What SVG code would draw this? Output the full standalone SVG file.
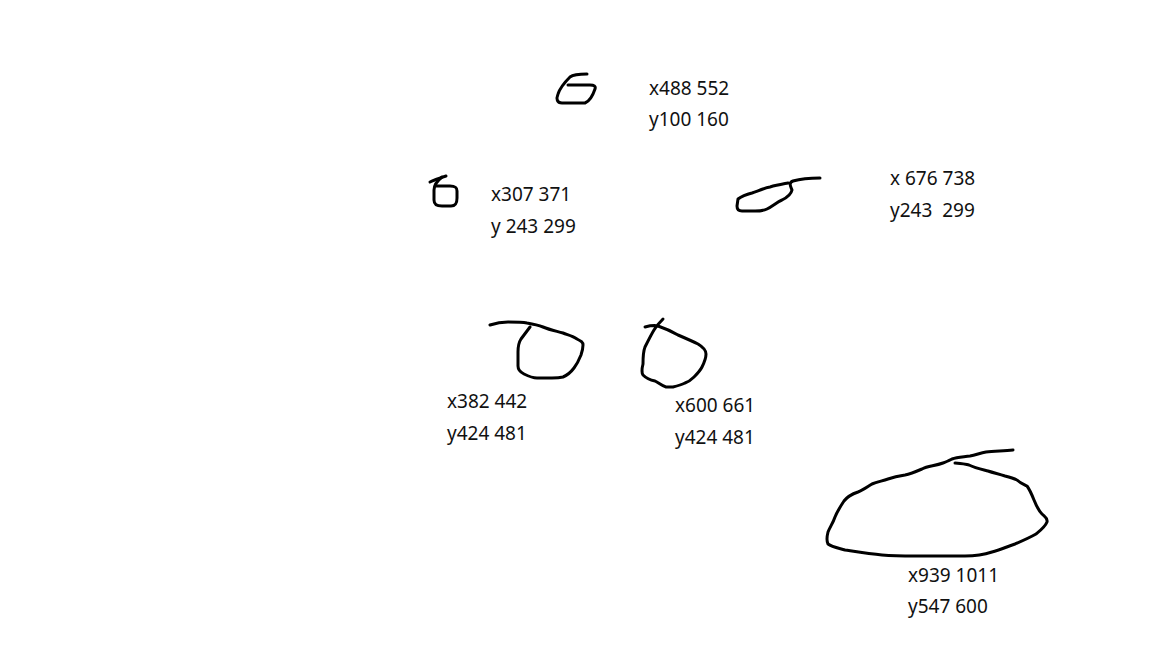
<svg xmlns="http://www.w3.org/2000/svg" width="1152" height="648" viewBox="0 0 1152 648">
<style>
.s{fill:none;stroke:#000;stroke-width:3;stroke-linecap:round;stroke-linejoin:round}
.t{font-family:"Noto Sans","Open Sans",sans-serif;font-size:19px;fill:#111;white-space:pre}
</style>
<rect width="1152" height="648" fill="#fff"/>
<g id="shape1">
<path class="s" d="M587,74 C580,74 574,74 570,77 C565,82 560,88 558,94 C556,99 557,103 562,103 L585,103 C590,101 593,95 595,89 C596,86 594,85 590,85 L568,85"/>
<text class="t" x="649" y="95">x488 552</text>
<text class="t" x="649" y="126">y100 160</text>
</g>
<g id="shape2">
<path class="s" d="M430,182 C434,180 440,178 446,176"/>
<path class="s" d="M442,177 C437,181 434,185 434,190 L434,200 C434,205 437,206 442,206 L451,206 C456,206 457,203 457,198 L457,191 C457,187 455,186 450,186 L436,186"/>
<text class="t" x="491" y="201">x307 371</text>
<text class="t" x="491" y="233">y 243 299</text>
</g>
<g id="shape3">
<path class="s" d="M820,178 C810,178 800,179 793,181 C788,183 791,187 792,190 C791,195 786,198 782,200 C777,202 773,206 767,209 C763,211 760,211 755,211 L742,211 C738,211 737,209 737,206 L738,199 C742,196 748,194 752,193 C758,191 764,188 770,187 C777,185 783,184 788,183"/>
<text class="t" x="890" y="185">x 676 738</text>
<text class="t" x="890" y="217">y243  299</text>
</g>
<g id="shape4">
<path class="s" d="M490,325 C496,323 502,322 508,322 C515,322 522,322 527,323 C533,324 538,325 543,327 C550,330 556,331 563,333 C568,335 573,336 577,339 C581,341 583,342 583,345 C583,349 582,352 581,355 C579,360 577,364 574,368 C571,372 568,375 563,377 C559,378 556,378 552,378 L537,378 C532,378 528,376 524,374 C520,372 518,370 518,366 L518,352 C518,346 519,342 521,339 C524,335 527,331 530,327"/>
<text class="t" x="447" y="408">x382 442</text>
<text class="t" x="447" y="440">y424 481</text>
</g>
<g id="shape5">
<path class="s" d="M645,327 C649,326 654,325 658,326 C664,328 671,331 678,335 C685,338 692,341 698,344 C703,347 706,350 706,354 C706,359 704,363 702,367 C700,371 697,374 694,377 C691,380 688,382 685,383 C681,385 677,386 673,387 L666,387 C662,386 659,383 655,381 C650,380 646,378 643,375 C641,372 642,368 643,364 C643,358 643,352 645,347 C648,341 651,335 654,330 C657,325 660,322 663,319"/>
<text class="t" x="675" y="412">x600 661</text>
<text class="t" x="675" y="444">y424 481</text>
</g>
<g id="shape6">
<path class="s" d="M1013,450 C1003,451 994,451 986,452 C980,453 976,455 970,456 C963,457 957,457 952,459 C948,461 946,462 943,463 C935,466 928,466 922,469 C915,472 910,474 905,475 C899,476 894,477 888,479 C882,481 877,482 872,484 C867,487 863,490 858,492 C852,494 847,497 844,501 C840,507 837,512 835,517 C833,523 830,527 828,532 C827,536 826,540 828,544 C832,547 838,548 845,550 C858,552 870,554 882,555 C894,556 905,556 915,556 L965,556 C974,556 983,555 992,552 C1000,550 1006,547 1015,544 C1022,541 1029,538 1036,534 C1041,530 1045,527 1047,522 C1048,518 1045,517 1042,514 C1038,510 1036,505 1034,500 C1032,495 1030,490 1027,486 C1023,484 1020,483 1017,480 C1013,478 1009,477 1005,476 C999,474 994,473 988,471 C980,469 975,468 969,465 C964,464 960,463 955,463"/>
<text class="t" x="908" y="582">x939 1011</text>
<text class="t" x="908" y="613">y547 600</text>
</g>
</svg>
